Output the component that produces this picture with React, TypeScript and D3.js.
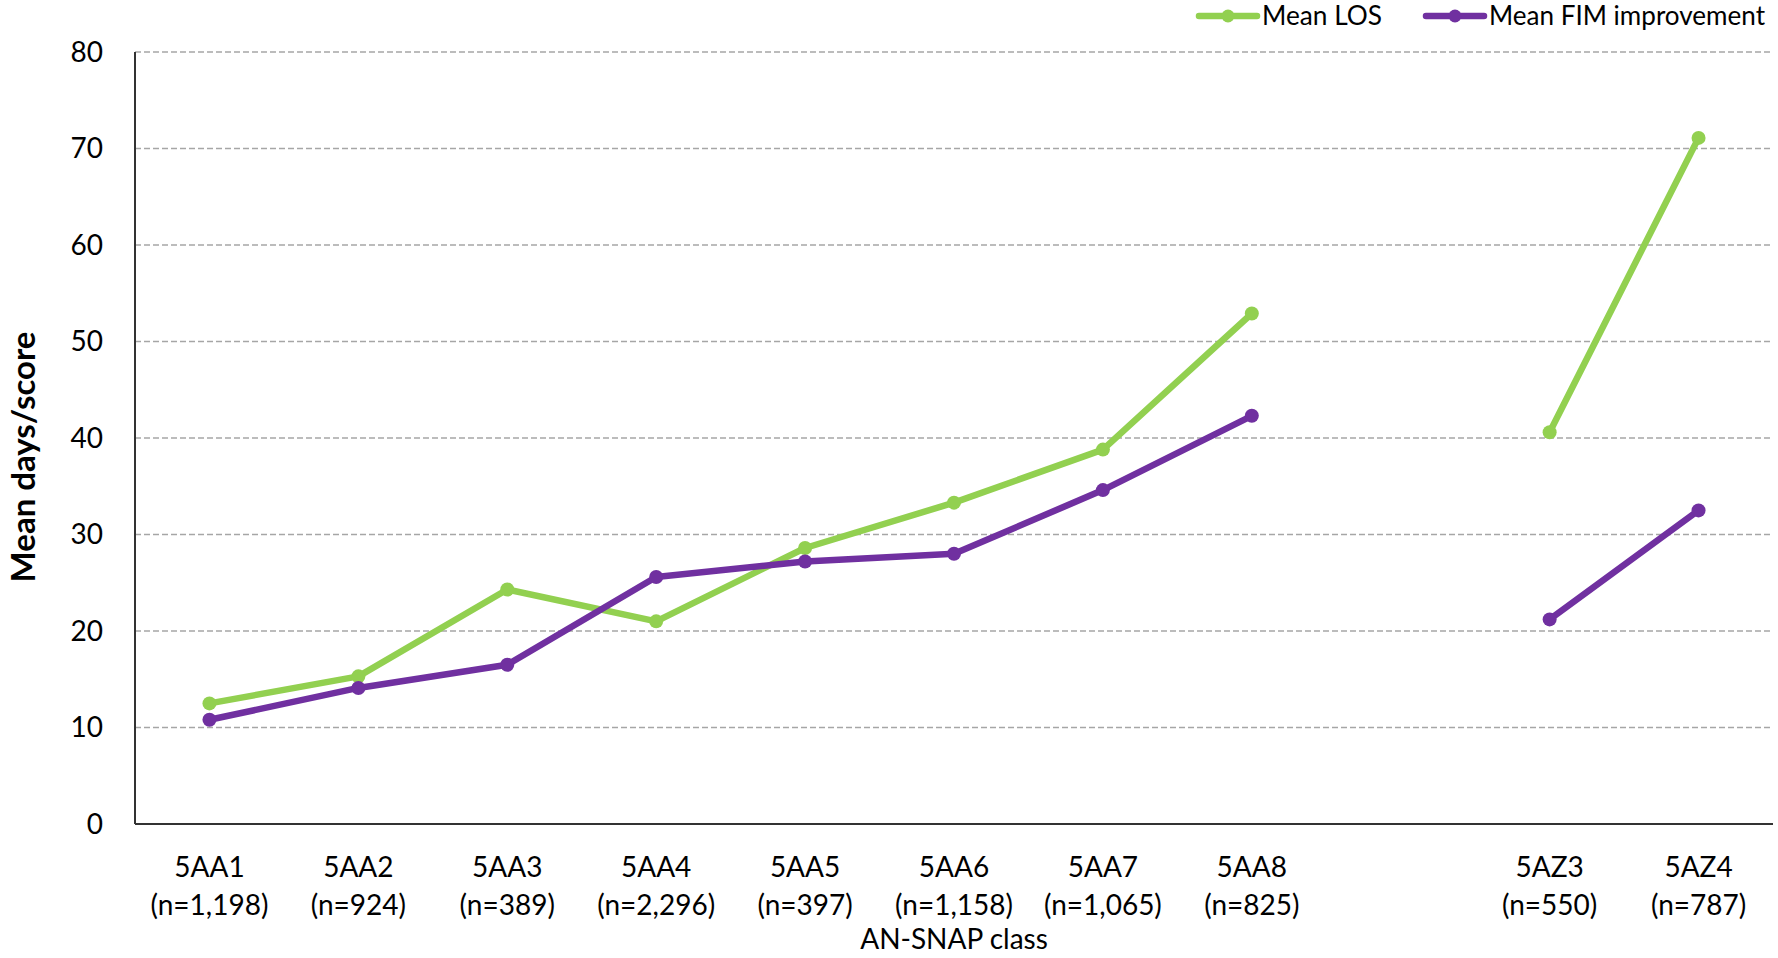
import React, { useEffect, useRef } from 'react';
import * as d3 from 'd3';

const categories = ['5AA1', '5AA2', '5AA3', '5AA4', '5AA5', '5AA6', '5AA7', '5AA8', '', '5AZ3', '5AZ4'];
const counts = ['(n=1,198)', '(n=924)', '(n=389)', '(n=2,296)', '(n=397)', '(n=1,158)', '(n=1,065)', '(n=825)', '', '(n=550)', '(n=787)'];
const meanLos: (number | null)[] = [12.5, 15.3, 24.3, 21.0, 28.6, 33.3, 38.8, 52.9, null, 40.6, 71.1];
const meanFim: (number | null)[] = [10.8, 14.1, 16.5, 25.6, 27.2, 28.0, 34.6, 42.3, null, 21.2, 32.5];
const yTicks = [0, 10, 20, 30, 40, 50, 60, 70, 80];

const GREEN = '#92D050';
const PURPLE = '#7030A0';
const FONT = 'Lato, "Noto Sans", sans-serif';

export default function App() {
  const svgRef = useRef<SVGSVGElement>(null);

  useEffect(() => {
    if (!svgRef.current) return;
    const svg = d3.select(svgRef.current);
    svg.selectAll('*').remove();

    const width = 1778;
    const height = 958;
    const left = 135;
    const right = 1773;
    const top = 52;
    const bottom = 824;

    svg.attr('width', width).attr('height', height);

    const x = d3.scaleBand<number>()
      .domain(categories.map((_, i) => i))
      .range([left, right])
      .padding(0);

    const y = d3.scaleLinear().domain([0, 80]).range([bottom, top]);

    const cx = (i: number) => (x(i) ?? 0) + x.bandwidth() / 2;

    // gridlines
    svg.append('g')
      .selectAll('line')
      .data(yTicks.filter(t => t > 0))
      .enter()
      .append('line')
      .attr('x1', left)
      .attr('x2', right)
      .attr('y1', d => y(d))
      .attr('y2', d => y(d))
      .attr('stroke', '#A6A6A6')
      .attr('stroke-width', 1.5)
      .attr('stroke-dasharray', '6,3');

    // y tick labels
    svg.append('g')
      .selectAll('text')
      .data(yTicks)
      .enter()
      .append('text')
      .attr('x', 103)
      .attr('y', d => y(d))
      .attr('dy', '0.35em')
      .attr('text-anchor', 'end')
      .attr('font-family', FONT)
      .attr('font-size', 28)
      .attr('fill', '#000')
      .text(d => d);

    // axes
    svg.append('line')
      .attr('x1', left).attr('x2', left)
      .attr('y1', top).attr('y2', bottom)
      .attr('stroke', '#333').attr('stroke-width', 2);
    svg.append('line')
      .attr('x1', left).attr('x2', right)
      .attr('y1', bottom).attr('y2', bottom)
      .attr('stroke', '#333').attr('stroke-width', 2);

    // category labels
    const cat = svg.append('g')
      .selectAll('g')
      .data(categories.map((c, i) => ({ c, n: counts[i], i })))
      .enter()
      .append('g');
    cat.append('text')
      .attr('x', d => cx(d.i))
      .attr('y', 877)
      .attr('text-anchor', 'middle')
      .attr('font-family', FONT)
      .attr('font-size', 28)
      .text(d => d.c);
    cat.append('text')
      .attr('x', d => cx(d.i))
      .attr('y', 915)
      .attr('text-anchor', 'middle')
      .attr('font-family', FONT)
      .attr('font-size', 28)
      .text(d => d.n);

    svg.append('text')
      .attr('x', (left + right) / 2)
      .attr('y', 949)
      .attr('text-anchor', 'middle')
      .attr('font-family', FONT)
      .attr('font-size', 28)
      .text('AN-SNAP class');

    svg.append('text')
      .attr('transform', `translate(35,${457}) rotate(-90)`)
      .attr('text-anchor', 'middle')
      .attr('font-family', FONT)
      .attr('font-size', 33)
      .attr('font-weight', 'bold')
      .text('Mean days/score');

    // series
    const series = [
      { name: 'Mean LOS', values: meanLos, color: GREEN },
      { name: 'Mean FIM improvement', values: meanFim, color: PURPLE },
    ];

    const line = d3.line<number | null>()
      .defined(d => d != null)
      .x((_, i) => cx(i))
      .y(d => y(d as number));

    series.forEach(s => {
      svg.append('path')
        .datum(s.values)
        .attr('fill', 'none')
        .attr('stroke', s.color)
        .attr('stroke-width', 6.5)
        .attr('stroke-linejoin', 'round')
        .attr('d', line);

      svg.append('g')
        .selectAll('circle')
        .data(s.values.map((v, i) => ({ v, i })).filter(d => d.v != null))
        .enter()
        .append('circle')
        .attr('cx', d => cx(d.i))
        .attr('cy', d => y(d.v as number))
        .attr('r', 7)
        .attr('fill', s.color);
    });

    // legend
    const legendItems = [
      { name: 'Mean LOS', color: GREEN, x0: 1199 },
      { name: 'Mean FIM improvement', color: PURPLE, x0: 1426 },
    ];
    const lg = svg.append('g')
      .selectAll('g')
      .data(legendItems)
      .enter()
      .append('g')
      .attr('transform', d => `translate(${d.x0},16)`);
    lg.append('line')
      .attr('x1', 0).attr('x2', 58)
      .attr('stroke', d => d.color)
      .attr('stroke-width', 6.5)
      .attr('stroke-linecap', 'round');
    lg.append('circle')
      .attr('cx', 29)
      .attr('r', 6.5)
      .attr('fill', d => d.color);
    lg.append('text')
      .attr('x', 63)
      .attr('dy', '0.35em')
      .attr('font-family', FONT)
      .attr('font-size', 26)
      .attr('textLength', d => (d.name === 'Mean LOS' ? 120 : 276))
      .attr('lengthAdjust', 'spacingAndGlyphs')
      .text(d => d.name);
  }, []);

  return (
    <svg
      ref={svgRef}
      style={{ position: 'absolute', left: 0, top: 0, background: '#fff' }}
    />
  );
}
